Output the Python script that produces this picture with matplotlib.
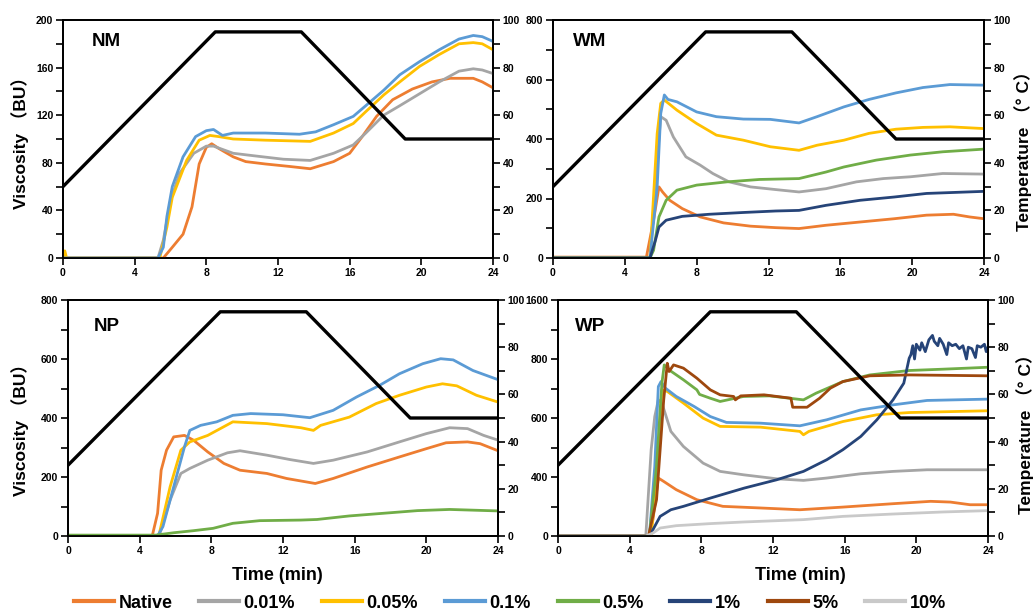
import matplotlib
matplotlib.use("Agg")
import matplotlib.pyplot as plt
from matplotlib.lines import Line2D
from matplotlib.ticker import MultipleLocator, FixedLocator

plt.rcParams['font.family'] = ['Liberation Sans', 'Noto Sans CJK SC', 'DejaVu Sans']
plt.rcParams['font.weight'] = 'bold'

# legend entries and colours
LABELS = ["Native", "0.01%", "0.05%", "0.1%", "0.5%", "1%", "5%", "10%"]
COLORS = ["#ED7D31", "#A5A5A5", "#FFC000", "#5B9BD5", "#70AD47", "#264478", "#9E480E", "#C9C9C9"]

# temperature programme (min, degC)
TEMP_T = [0, 8.5, 13.3, 19.1, 24]
TEMP_C = [30, 95, 95, 50, 50]

# ---- NM (viscosity BU) ----
NM_NATIVE = [(0, 0), (5.6, 0), (6.1, 9), (6.7, 20), (7.2, 43), (7.6, 79), (8.0, 93), (8.3, 96), (8.7, 92),
             (9.5, 85), (10.2, 81), (11.3, 79), (12.6, 77), (13.8, 75), (15.1, 81), (16.0, 88), (16.7, 102),
             (17.5, 119), (18.4, 133), (19.5, 142), (20.6, 148), (21.6, 151), (22.9, 151), (23.4, 148), (24, 143)]
NM_001 = [(0, 0), (5.3, 0), (5.6, 15), (6.0, 48), (6.5, 71), (7.3, 88), (8.0, 94), (8.4, 94), (9.5, 88),
          (10.6, 86), (12.3, 83), (13.8, 82), (15.1, 88), (16.2, 95), (16.9, 105), (17.9, 120), (18.8, 128),
          (19.9, 138), (21.0, 148), (22.1, 157), (22.9, 159), (23.4, 158), (24, 155)]
NM_005 = [(0, 0), (0.1, 6), (0.2, 0), (5.4, 0), (5.8, 26), (6.1, 51), (6.9, 82), (7.6, 99), (8.2, 103),
          (8.7, 102), (9.5, 100), (11.3, 99), (13.8, 98), (15.1, 105), (16.2, 113), (16.9, 123), (17.9, 137),
          (18.8, 148), (19.9, 161), (21.0, 171), (22.1, 180), (22.9, 181), (23.4, 180), (24, 175)]
NM_01 = [(0, 0), (5.3, 0), (5.6, 9), (5.8, 35), (6.1, 60), (6.7, 85), (7.4, 102), (8.0, 107), (8.4, 108),
         (8.9, 103), (9.5, 105), (11.3, 105), (13.2, 104), (14.1, 106), (15.1, 112), (16.2, 119), (16.9, 128),
         (17.9, 141), (18.8, 154), (19.9, 165), (21.0, 175), (22.1, 184), (22.9, 187), (23.4, 186), (24, 182)]

# ---- WM ----
WM_NATIVE = [(0, 3), (5.2, 3), (5.6, 127), (5.9, 239), (6.1, 222), (6.5, 194), (7.2, 166), (8.2, 138),
             (9.5, 118), (11.0, 107), (12.4, 102), (13.7, 99), (15.2, 110), (17.1, 121), (19.0, 132),
             (20.8, 144), (22.3, 147), (23.2, 138), (24, 132)]
WM_001 = [(0, 0), (5.4, 0), (5.8, 329), (6.0, 475), (6.3, 463), (6.7, 407), (7.4, 340), (8.2, 312), (8.9, 284),
          (9.8, 256), (11.0, 239), (12.4, 230), (13.7, 222), (15.2, 233), (16.9, 256), (18.4, 267), (19.9, 273),
          (21.7, 284), (24, 282)]
WM_005 = [(0, 0), (5.4, 0), (5.8, 418), (6.0, 520), (6.2, 531), (6.9, 497), (8.0, 452), (9.1, 413), (10.6, 396),
          (12.1, 374), (13.7, 362), (14.7, 379), (16.2, 396), (17.6, 419), (19.1, 433), (20.6, 439), (22.1, 441),
          (24, 435)]
WM_01 = [(0, 0), (5.4, 0), (5.8, 239), (6.0, 486), (6.2, 548), (6.4, 533), (6.9, 525), (8.0, 491), (9.1, 475),
         (10.6, 467), (12.1, 466), (13.7, 454), (14.7, 475), (16.2, 508), (17.6, 533), (19.1, 555), (20.6, 573),
         (22.1, 583), (24, 581)]
WM_05 = [(0, 0), (5.4, 0), (5.6, 26), (5.9, 138), (6.3, 194), (6.9, 228), (8.0, 245), (9.7, 256), (11.5, 264),
         (13.7, 267), (15.2, 289), (16.2, 306), (18.0, 329), (19.9, 346), (21.7, 357), (24, 366)]
WM_1 = [(0, 0), (5.4, 0), (5.7, 59), (5.9, 104), (6.3, 127), (7.2, 140), (8.7, 147), (10.6, 153), (12.4, 158),
        (13.7, 160), (15.2, 177), (17.1, 194), (19.0, 205), (20.8, 217), (24, 224)]

# ---- NP ----
NP_NATIVE = [(0, 0), (4.7, 0), (5.0, 77), (5.2, 223), (5.5, 291), (5.9, 336), (6.5, 341), (7.0, 325),
             (7.8, 285), (8.7, 246), (9.6, 223), (11.1, 212), (12.2, 195), (13.8, 178), (14.8, 195),
             (16.7, 234), (18.5, 268), (20.0, 296), (21.1, 316), (22.3, 319), (23.0, 313), (24, 289)]
NP_001 = [(0, 0), (5.0, 0), (5.1, 3), (5.7, 122), (6.3, 212), (6.8, 229), (7.8, 257), (8.9, 282), (9.6, 289),
          (11.1, 274), (12.4, 259), (13.7, 246), (14.8, 257), (16.7, 285), (18.5, 319), (20.0, 347), (21.3, 367),
          (22.3, 364), (23.2, 341), (24, 325)]
NP_005 = [(0, 0), (5.0, 0), (5.1, 9), (5.7, 167), (6.3, 291), (6.8, 319), (7.8, 341), (8.5, 364), (9.2, 387),
          (11.1, 381), (13.0, 367), (13.7, 358), (14.1, 375), (15.7, 403), (17.2, 449), (18.5, 477), (20.0, 505),
          (20.9, 516), (21.7, 509), (22.8, 477), (24, 454)]
NP_01 = [(0, 0), (5.0, 0), (5.3, 32), (5.9, 167), (6.5, 302), (6.8, 358), (7.4, 375), (8.3, 387), (9.2, 409),
         (10.2, 415), (12.0, 411), (13.5, 401), (14.8, 426), (16.1, 471), (17.4, 511), (18.5, 550), (19.8, 584),
         (20.8, 601), (21.5, 597), (22.6, 561), (24, 530)]
NP_05 = [(0, 3), (4.9, 3), (5.9, 11), (7.0, 18), (8.1, 26), (9.2, 43), (10.7, 52), (13.0, 54), (13.9, 56),
         (15.7, 68), (17.6, 77), (19.5, 86), (21.3, 90), (24, 85)]

# ---- WP (axis position units, 0-1600 scale) ----
WP_NATIVE = [(0, 0), (5.1, 0), (5.3, 111), (5.6, 393), (5.9, 370), (6.6, 314), (7.75, 246), (9.2, 201),
             (11.3, 190), (13.5, 178), (15.9, 196), (18.7, 219), (20.8, 235), (21.9, 230), (23.0, 212), (24, 212)]
WP_001 = [(0, 0), (4.9, 0), (5.2, 585), (5.4, 810), (5.6, 923), (5.8, 901), (6.3, 709), (7.0, 607), (8.1, 494),
          (9.05, 438), (10.35, 415), (12.2, 388), (13.7, 377), (15.0, 393), (16.9, 422), (18.7, 438), (20.6, 449),
          (24, 449)]
WP_005 = [(0, 0), (5.2, 0), (5.6, 585), (5.8, 991), (6.1, 980), (7.0, 901), (8.1, 799), (9.05, 743), (11.3, 738),
          (13.5, 709), (13.7, 686), (14.0, 709), (15.9, 776), (17.8, 822), (19.6, 837), (24, 849)]
WP_01 = [(0, 0), (5.1, 0), (5.4, 472), (5.6, 1013), (5.75, 1047), (6.0, 1002), (6.6, 946), (7.6, 878),
         (8.5, 810), (9.4, 770), (11.3, 765), (13.5, 747), (15.0, 788), (16.9, 855), (18.7, 889), (20.6, 919),
         (24, 928)]
WP_05 = [(0, 0), (5.1, 0), (5.5, 472), (5.8, 1036), (5.93, 1160), (6.2, 1126), (7.0, 1059), (7.75, 991),
         (7.9, 960), (8.5, 934), (9.05, 912), (10.35, 946), (11.8, 950), (13.7, 923), (14.4, 968), (15.9, 1047),
         (17.4, 1092), (19.6, 1122), (21.5, 1131), (24, 1144)]
WP_1 = [(0, 0), (5.05, 0), (5.3, 43), (5.7, 133), (6.3, 178), (7.0, 201), (8.5, 257), (10.4, 325), (12.2, 381),
        (13.7, 438), (15.0, 517), (15.9, 585), (16.9, 675), (17.8, 788), (18.7, 923), (19.3, 1036), (19.6, 1205),
        (19.7, 1230), (19.8, 1290), (19.9, 1200), (20.0, 1300), (20.2, 1260), (20.3, 1310), (20.5, 1250),
        (20.7, 1330), (20.9, 1360), (21.0, 1320), (21.2, 1290), (21.3, 1340), (21.5, 1300), (21.7, 1230),
        (21.8, 1310), (22.0, 1290), (22.2, 1300), (22.4, 1270), (22.6, 1290), (22.8, 1200), (22.9, 1280),
        (23.1, 1270), (23.3, 1210), (23.4, 1290), (23.6, 1280), (23.8, 1300), (23.9, 1250), (24, 1280)]
WP_5 = [(0, 0), (5.05, 0), (5.5, 246), (5.9, 923), (6.1, 1171), (6.2, 1115), (6.45, 1160), (7.0, 1138),
        (7.75, 1070), (8.5, 991), (9.05, 957), (9.8, 946), (9.9, 923), (10.2, 950), (11.5, 957), (13.0, 934),
        (13.1, 873), (13.9, 873), (14.6, 934), (15.2, 1002), (15.9, 1047), (17.4, 1086), (19.6, 1092), (24, 1086)]
WP_10 = [(0, 0), (4.9, 0), (5.3, 20), (5.7, 54), (6.6, 70), (8.5, 84), (10.35, 95), (13.7, 111), (15.9, 133),
         (18.7, 149), (21.5, 163), (24, 172)]

WP_TICKS = [0, 400, 800, 1200, 1600]
WP_TICKLABELS = ["0", "400", "600", "800", "1600"]

panels = [
    # rect, name, series, ymax, major, minor, ticklabels
    ([63, 20, 493, 258], "NM", [NM_NATIVE, NM_001, NM_005, NM_01], 200, 40, 20, None),
    ([553, 20, 984, 258], "WM", [WM_NATIVE, WM_001, WM_005, WM_01, WM_05, WM_1], 800, 200, 100, None),
    ([68, 300, 498, 536], "NP", [NP_NATIVE, NP_001, NP_005, NP_01, NP_05], 800, 200, 100, None),
    ([558, 300, 988, 536], "WP", [WP_NATIVE, WP_001, WP_005, WP_01, WP_05, WP_1, WP_5, WP_10], 1600, 400, 200,
     WP_TICKLABELS),
]
name_pos = {"NM": (0.067, 0.908), "WM": (0.046, 0.908), "NP": (0.06, 0.886), "WP": (0.04, 0.886)}

W, H = 1033, 611
fig = plt.figure(figsize=(W / 100, H / 100), dpi=100)

tick_kw = dict(direction="out", length=5, width=1.2, labelsize=7.5, pad=2)

for rect, name, series, ymax, major, minor, ticklabels in panels:
    x0, y0, x1, y1 = rect
    ax = fig.add_axes([x0 / W, 1 - y1 / H, (x1 - x0) / W, (y1 - y0) / H])
    for i, data in enumerate(series):
        t = [p[0] for p in data]
        v = [p[1] for p in data]
        ax.plot(t, v, color=COLORS[i], lw=2.0, solid_joinstyle="round", zorder=3)
    ax.set_xlim(0, 24)
    ax.set_ylim(0, ymax)
    ax.xaxis.set_major_locator(MultipleLocator(4))
    if ticklabels is None:
        ax.yaxis.set_major_locator(MultipleLocator(major))
    else:
        ax.yaxis.set_major_locator(FixedLocator(WP_TICKS))
        ax.set_yticklabels(ticklabels)
    ax.yaxis.set_minor_locator(MultipleLocator(minor))
    ax.tick_params(axis="both", which="both", **tick_kw)
    ax.tick_params(axis="x", which="both", top=False)
    for sp in ax.spines.values():
        sp.set_linewidth(1.3)
    for lab in ax.get_xticklabels() + ax.get_yticklabels():
        lab.set_fontweight("bold")
    ax.text(name_pos[name][0], name_pos[name][1], name, transform=ax.transAxes,
            fontsize=13.5, fontweight="bold", ha="left", va="center")

    tx = ax.twinx()
    tx.plot(TEMP_T, TEMP_C, color="black", lw=2.4, zorder=2)
    tx.set_ylim(0, 100)
    tx.yaxis.set_major_locator(MultipleLocator(20))
    tx.yaxis.set_minor_locator(MultipleLocator(10))
    tx.tick_params(axis="y", which="both", **tick_kw)
    for lab in tx.get_yticklabels():
        lab.set_fontweight("bold")
    for sp in tx.spines.values():
        sp.set_linewidth(1.3)

# axis titles
fig.text(20 / W, 1 - 139 / H, "Viscosity （BU）", rotation=90, ha="center", va="center",
         fontsize=12.5, fontweight="bold")
fig.text(20 / W, 1 - 426 / H, "Viscosity （BU）", rotation=90, ha="center", va="center",
         fontsize=12.5, fontweight="bold")
fig.text(1023 / W, 1 - 147 / H, "Temperature （° C）", rotation=90, ha="center", va="center",
         fontsize=12.5, fontweight="bold")
fig.text(1025 / W, 1 - 430 / H, "Temperature （° C）", rotation=90, ha="center", va="center",
         fontsize=12.5, fontweight="bold")
fig.text(277 / W, 1 - 576 / H, "Time (min)", ha="center", va="center", fontsize=13, fontweight="bold")
fig.text(800 / W, 1 - 576 / H, "Time (min)", ha="center", va="center", fontsize=13, fontweight="bold")

handles = [Line2D([0], [0], color=c, lw=3) for c in COLORS]
fig.legend(handles, LABELS, loc="center", bbox_to_anchor=(510 / W, 1 - 603 / H), ncol=8, frameon=False,
           prop={"size": 13, "weight": "bold"}, handlelength=2.2, handletextpad=0.25, columnspacing=1.5,
           borderaxespad=0, borderpad=0)

fig.savefig("out.png", dpi=100)
